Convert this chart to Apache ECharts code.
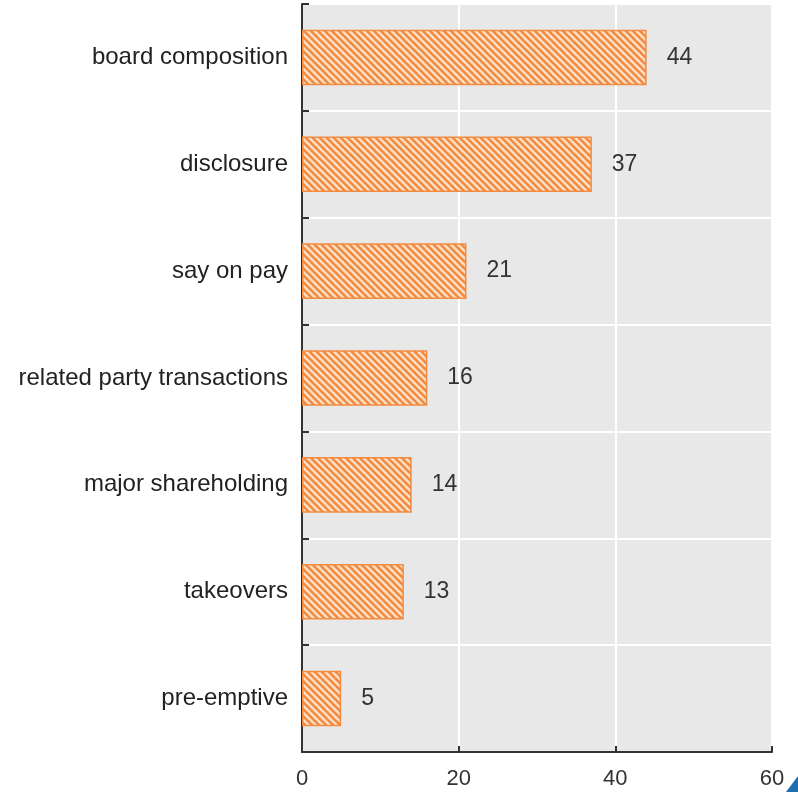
<!DOCTYPE html>
<html><head><meta charset="utf-8">
<script src="https://cdn.jsdelivr.net/npm/echarts@6/dist/echarts.min.js"></script>
<style>html,body{margin:0;padding:0;background:#fff;}#c{width:798px;height:792px;}</style>
</head><body><div id="c"></div>
<script>
const categories = ["board composition","disclosure","say on pay","related party transactions","major shareholding","takeovers","pre-emptive"];
const values = [44,37,21,16,14,13,5];
const xTicks = [0,20,40,60];

function hatch(){
  const s = 7, c = document.createElement('canvas');
  c.width = s; c.height = s;
  const g = c.getContext('2d');
  g.fillStyle = '#fde0c8'; g.fillRect(0,0,s,s);
  g.strokeStyle = '#f28b40'; g.lineWidth = 2.6;
  for (let k=-1;k<=1;k++){ g.beginPath(); g.moveTo(-1, k*s-1); g.lineTo(s+1, k*s+s+1); g.stroke(); }
  return c;
}
const chart = echarts.init(document.getElementById('c'));
chart.setOption({
  animation:false,
  grid:{left:302,right:26,top:4,bottom:40,show:true,backgroundColor:'#e8e8e8',borderWidth:0},
  xAxis:{type:'value',min:xTicks[0],max:xTicks[xTicks.length-1],interval:20,
    axisLine:{show:true,lineStyle:{color:'#333',width:2}},
    axisTick:{show:true,inside:true,length:6,lineStyle:{color:'#333',width:2}},
    axisLabel:{fontSize:22,color:'#333',fontFamily:'Liberation Sans, Arial',margin:16},
    splitLine:{show:true,lineStyle:{color:'#ffffff',width:2}}},
  yAxis:{type:'category',data:categories,inverse:true,
    axisLine:{show:true,lineStyle:{color:'#333',width:2}},
    axisTick:{show:true,inside:true,length:7,lineStyle:{color:'#333',width:2}},
    axisLabel:{fontSize:24,color:'#222',fontFamily:'Liberation Sans, Arial',margin:14},
    splitLine:{show:true,lineStyle:{color:'#ffffff',width:2}}},
  series:[{type:'bar',data:values,barCategoryGap:'48%',
    itemStyle:{color:{image:hatch(),repeat:'repeat'},borderColor:'#f28b40',borderWidth:1.5},
    label:{show:true,position:'right',distance:20,fontSize:23,color:'#333',fontFamily:'Liberation Sans, Arial'}}],
  graphic:[{type:'polygon',shape:{points:[[786,792],[798,776],[798,792]]},style:{fill:'#1f6eb0'}}]
});
</script></body></html>
